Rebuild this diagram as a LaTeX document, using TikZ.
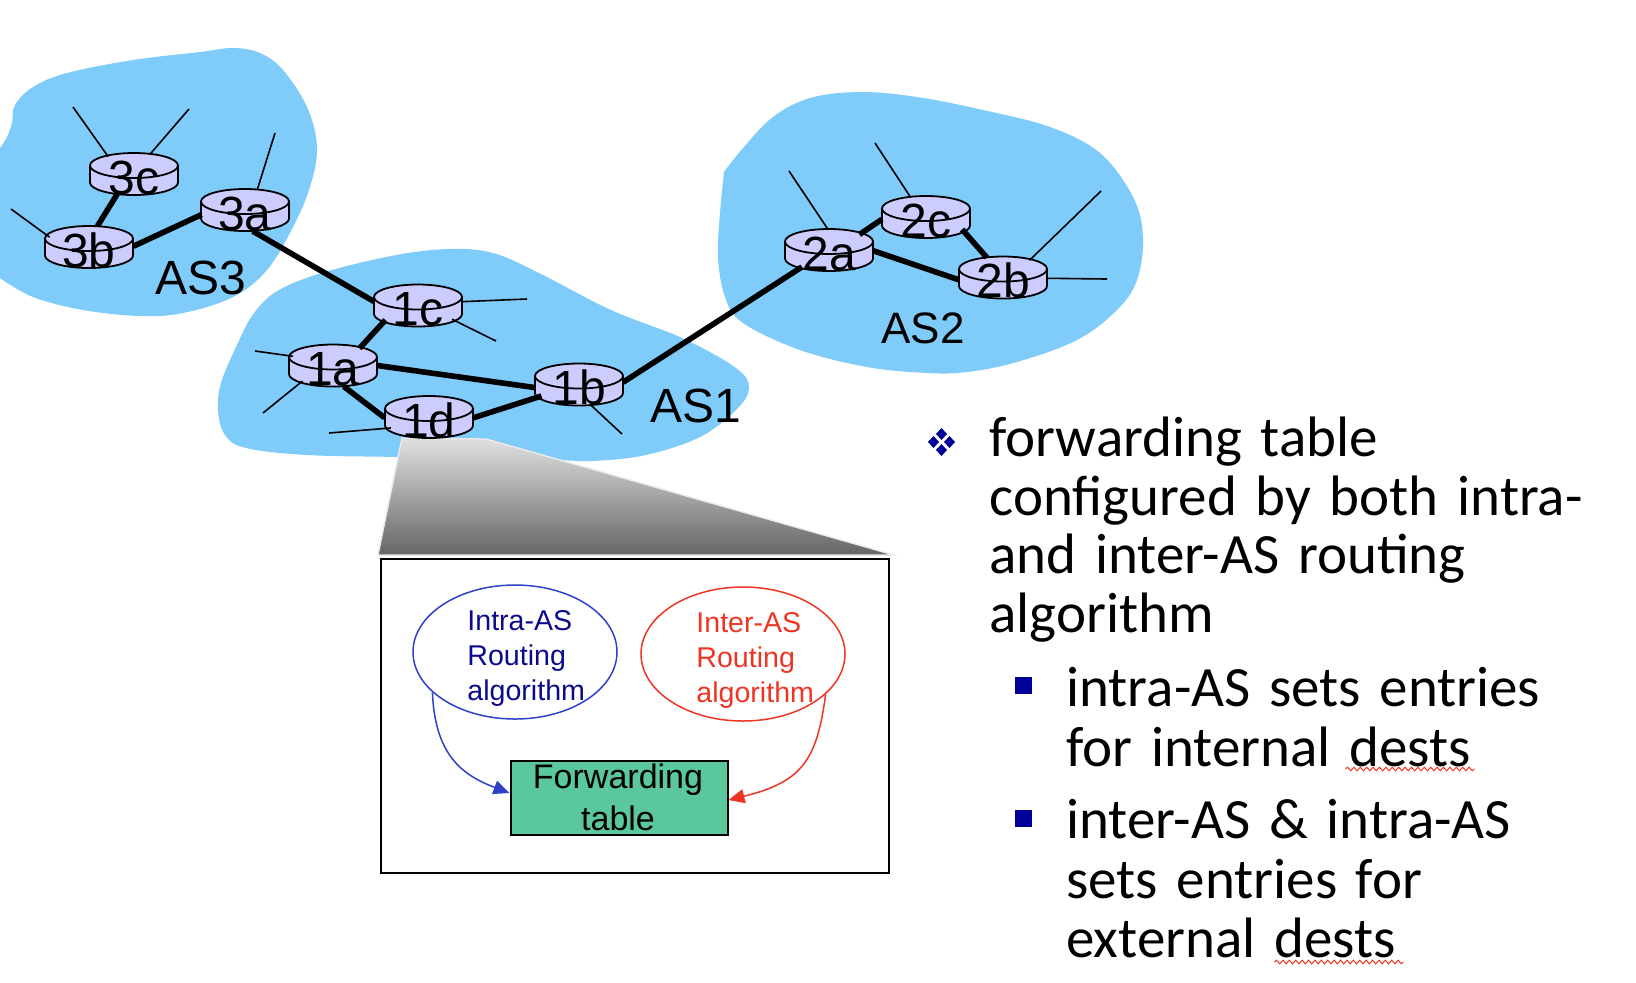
\documentclass[tikz,border=0pt]{standalone}
\usepackage{fontspec}
\setmainfont{Liberation Sans}
\newfontfamily\gillish[WordSpace=1.45]{Carlito}
\usetikzlibrary{shapes.geometric,arrows.meta,decorations.pathmorphing}
\definecolor{blobblue}{HTML}{7FCBFA}
\definecolor{routerlilac}{HTML}{CCCCFF}
\definecolor{tablegreen}{HTML}{5AC89C}
\definecolor{intrablue}{HTML}{3040C8}
\definecolor{intratext}{HTML}{0A0A8C}
\definecolor{interred}{HTML}{EE3524}
\definecolor{bulletblue}{HTML}{000099}
\tikzset{
  blob/.style={fill=blobblue,draw=none},
  thicklink/.style={line width=2.8pt,black},
  spoke/.style={line width=0.8pt,black},
  routernode/.style={ellipse,minimum width=44pt,minimum height=21pt,inner sep=0pt,font=\fontsize{24}{24}\selectfont},
  aslabel/.style={anchor=base,inner sep=0pt,font=\fontsize{24}{24}\selectfont},
  algotext/.style={anchor=north west,align=left,inner sep=0pt,font=\fontsize{14.3}{17.6}\selectfont},
  bodytext/.style={anchor=north west,align=left,inner sep=0pt,font=\gillish\fontsize{28.5}{29.7}\selectfont},
  squarebullet/.style={fill=bulletblue,draw=none,minimum width=8.5pt,minimum height=8.5pt,inner sep=0pt},
  squiggle/.style={draw=interred,line width=0.5pt,decorate,decoration={snake,amplitude=0.9pt,segment length=3.2pt}}
}
\newcommand{\routerbody}[2]{%
  \fill[routerlilac] ({#1-44},{#2-8.5}) -- ({#1-44},{#2+8.5}) arc[start angle=180,end angle=360,x radius=22pt,y radius=6.25pt] -- ({#1+44},{#2-8.5}) -- cycle;
  \draw[line width=0.9pt] ({#1-44},{#2-8.5}) -- ({#1-44},{#2+8.5}) arc[start angle=180,end angle=360,x radius=22pt,y radius=6.25pt] -- ({#1+44},{#2-8.5});
  \draw[line width=0.9pt,fill=routerlilac] (#1,{#2-8.5}) ellipse[x radius=22pt,y radius=6.25pt];
}
\newcommand{\routertext}[1]{\makebox[0pt]{\raisebox{-0.42em}[0pt][0pt]{#1}}}
\begin{document}
\begin{tikzpicture}[x=0.5pt,y=-0.5pt]
\useasboundingbox (0,0) rectangle (1636,982);
% autonomous systems
\fill[blob] plot[smooth,tension=0.6] coordinates {(0,148) (7,137) (12,123) (15,105) (33,87) (67,73) (133,60) (200,52) (233,48) (260,53) (283,70) (307,107) (317,147) (310,187) (293,227) (267,270) (233,297) (183,313) (140,316) (83,310) (33,297) (0,278)} -- cycle;
\fill[blob] plot[smooth cycle,tension=0.6] coordinates {(218,410) (225,435) (246,448) (307,455) (398,457) (486,459) (557,460) (593,461) (646,455) (700,437) (736,410) (749,388) (736,368) (682,338) (611,310) (539,273) (493,253) (450,249) (396,255) (325,272) (279,290) (254,313) (236,347) (221,383)};
\fill[blob] (724,172) -- plot[smooth,tension=0.6] coordinates {(724,172) (743,148) (773,117) (810,98) (860,92) (917,97) (983,110) (1050,127) (1100,153) (1133,197) (1143,237) (1137,280) (1117,310) (1077,340) (1017,362) (967,372) (927,373) (867,367) (800,350) (743,323) (725,297) (718,257) (720,213) (724,172)} -- cycle;
% zoom wedge
\shade[top color=black!12,bottom color=black!60,draw=black!8,line width=0.7pt] (402,438) -- (486,439) -- (894,555) -- (378,555) -- cycle;
% detail box
\node[draw=black,line width=1pt,minimum width=254.25pt,minimum height=157pt,inner sep=0pt] (detail) at (635,716) {};
\node[ellipse,draw=intrablue,line width=0.75pt,minimum width=102pt,minimum height=67pt,inner sep=0pt] (intra) at (515,652) {};
\node[ellipse,draw=interred,line width=0.75pt,minimum width=102pt,minimum height=67pt,inner sep=0pt] (inter) at (743,654) {};
\node[algotext,text=intratext] (intratxt) at (467,610) {Intra-AS\\Routing\\algorithm};
\node[algotext,text=interred] (intertxt) at (696,612) {Inter-AS\\Routing\\algorithm};
\node[draw=black,fill=tablegreen,line width=1pt,minimum width=108.5pt,minimum height=37pt,inner sep=0pt] (ftable) at (619,798) {};
\node[align=center,inner sep=0pt,font=\fontsize{17}{21}\selectfont] (ftabletxt) at (618,797) {Forwarding\\table};
\draw[intrablue,line width=0.75pt,-{Triangle[length=8pt,width=7pt]}] (intra.206) .. controls (435,755) and (462,775) .. (ftable.west |- 0,793);
\draw[interred,line width=0.75pt,-{Triangle[length=8pt,width=7pt]}] (inter.-26) .. controls (817,760) and (802,782) .. (ftable.east |- 0,800);
% routers: bodies
\routerbody{134}{174}\routerbody{245}{210}\routerbody{89}{247}
\routerbody{418}{305.5}\routerbody{333}{365.5}\routerbody{429}{417}\routerbody{579}{384.5}
\routerbody{829}{250}\routerbody{926}{217}\routerbody{1003}{277.5}
\node[routernode] (3c) at (134,174) {\routertext{3c}};
\node[routernode] (3a) at (245,210) {\routertext{3a}};
\node[routernode] (3b) at (89,247) {\routertext{3b}};
\node[routernode] (1c) at (418,305.5) {\routertext{1c}};
\node[routernode] (1a) at (333,365.5) {\routertext{1a}};
\node[routernode] (1d) at (429,417) {\routertext{1d}};
\node[routernode] (1b) at (579,384.5) {\routertext{1b}};
\node[routernode] (2a) at (829,250) {\routertext{2a}};
\node[routernode] (2c) at (926,217) {\routertext{2c}};
\node[routernode] (2b) at (1003,277.5) {\routertext{2b}};
% links
\draw[thicklink] (3c.-130) -- (3b.68);
\draw[thicklink] (3b.1) -- (3a.186);
\draw[thicklink] (3a.-70) -- (1c.175);
\draw[thicklink] (1c.204) -- (1a.33);
\draw[thicklink] (1a.0) -- (1b.184);
\draw[thicklink] (1a.-63) -- (1d.181);
\draw[thicklink] (1d.-1) -- (1b.197);
\draw[thicklink] (1b.3) -- (2a.212);
\draw[thicklink] (2a.27) -- (2c.183);
\draw[thicklink] (2c.-19) -- (2b.129);
\draw[thicklink] (2a.-1) -- (2b.183);
% stubs
\coordinate (s3c1) at (73,107); \coordinate (s3c2) at (189,109);
\coordinate (s3a) at (275,133); \coordinate (s3b) at (11,209);
\coordinate (s1c1) at (527,299); \coordinate (s1c2) at (496,341);
\coordinate (s1a1) at (255,351); \coordinate (s1a2) at (263,413);
\coordinate (s1d) at (329,433); \coordinate (s1b) at (622,434);
\coordinate (s2a) at (789,171); \coordinate (s2c) at (875,143);
\coordinate (s2b1) at (1101,191); \coordinate (s2b2) at (1107,279);
\draw[spoke] (3c.146) -- (s3c1);
\draw[spoke] (3c.51) -- (s3c2);
\draw[spoke] (3a.59) -- (s3a);
\draw[spoke] (3b.166) -- (s3b);
\draw[spoke] (1c.5) -- (s1c1);
\draw[spoke] (1c.-22) -- (s1c2);
\draw[spoke] (1a.167) -- (s1a1);
\draw[spoke] (1a.207) -- (s1a2);
\draw[spoke] (1d.196) -- (s1d);
\draw[spoke] (1b.-60) -- (s1b);
\draw[spoke] (2a.94) -- (s2a);
\draw[spoke] (2c.128) -- (s2c);
\draw[spoke] (2b.33) -- (s2b1);
\draw[spoke] (2b.-1) -- (s2b2);
% AS labels
\node[aslabel] (as3) at (201,294) {AS3};
\node[aslabel] (as1) at (696,422) {AS1};
\node[aslabel,font=\fontsize{22}{22}\selectfont] (as2) at (923,343) {AS2};
% bullets and text
\foreach \dx/\dy in {0/-8,-8/0,8/0,0/8}
  \fill[bulletblue] ({941.5+\dx},{442+\dy-6}) -- ({941.5+\dx+5.5},{442+\dy}) -- ({941.5+\dx},{442+\dy+6}) -- ({941.5+\dx-5.5},{442+\dy}) -- cycle;
\node[bodytext,font=\gillish\fontsize{28.5}{29.2}\selectfont] (p1) at (989,417) {forwarding table\\configured by both intra-\\and inter-AS routing\\algorithm};
\node[squarebullet] (b2) at (1023.5,685.5) {};
\node[bodytext] (p2) at (1066,667) {intra-AS sets entries\\for internal dests};
\node[squarebullet] (b3) at (1023.5,818.5) {};
\node[bodytext] (p3) at (1066,799) {inter-AS \& intra-AS\\sets entries for\\external dests};
\coordinate (w1a) at (1345.5,769); \coordinate (w1b) at (1474.5,769);
\coordinate (w2a) at (1274.5,962); \coordinate (w2b) at (1403.5,962);
\draw[squiggle] (w1a) -- (w1b);
\draw[squiggle] (w2a) -- (w2b);
\end{tikzpicture}
\end{document}
